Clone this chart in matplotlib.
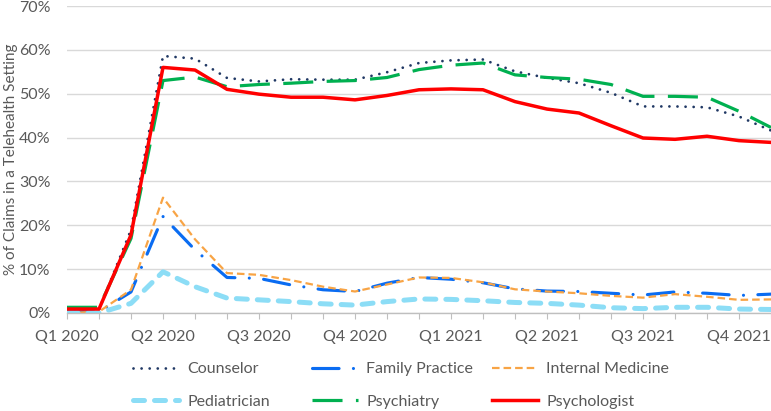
import matplotlib
matplotlib.use("Agg")
import matplotlib.pyplot as plt

# monthly share of claims in a telehealth setting (%), Jan 2020 .. Nov 2021
months = list(range(23))
quarter_labels = ["Q1 2020", "Q2 2020", "Q3 2020", "Q4 2020",
                  "Q1 2021", "Q2 2021", "Q3 2021", "Q4 2021"]

counselor = [0.8, 0.8, 19.0, 58.6, 58.0, 53.6, 52.8, 53.3, 53.2, 53.2, 54.9, 57.0,
             57.6, 57.8, 55.1, 53.6, 52.4, 50.2, 47.1, 47.1, 46.9, 44.8, 41.6]
family_practice = [0.3, 0.3, 4.8, 22.0, 14.4, 8.1, 7.9, 6.4, 5.3, 4.9, 6.8, 8.1,
                   7.7, 6.9, 5.5, 5.0, 4.9, 4.5, 4.1, 4.8, 4.5, 4.0, 4.3]
internal_medicine = [0.0, 0.3, 5.3, 26.3, 16.8, 9.1, 8.7, 7.5, 6.0, 4.9, 6.5, 8.1,
                     8.0, 7.0, 5.4, 4.9, 4.5, 3.9, 3.5, 4.3, 3.7, 3.0, 3.1]
pediatrician = [0.0, 0.0, 2.2, 9.4, 6.0, 3.4, 3.0, 2.6, 2.1, 1.8, 2.6, 3.2,
                3.1, 2.8, 2.4, 2.2, 1.8, 1.2, 1.0, 1.3, 1.3, 0.9, 0.8]
psychiatry = [1.3, 1.3, 17.0, 53.0, 53.8, 51.6, 52.1, 52.4, 52.8, 53.0, 53.7, 55.5,
              56.5, 57.0, 54.3, 53.7, 53.3, 52.1, 49.4, 49.4, 49.2, 46.0, 42.3]
psychologist = [0.9, 0.9, 17.8, 56.0, 55.4, 51.0, 49.9, 49.2, 49.2, 48.6, 49.6, 50.9,
                51.1, 50.9, 48.2, 46.5, 45.6, 42.7, 39.9, 39.6, 40.3, 39.3, 38.9]

plt.rcParams['font.family'] = ['Lato', 'DejaVu Sans']
gray_text = '#595959'
grid_col = '#D9D9D9'

fig = plt.figure(figsize=(7.71, 4.11), dpi=100)
ax = fig.add_axes([67 / 771, 1 - 313 / 411, 704 / 771, 307 / 411])

series = [
    ("Counselor", counselor, dict(color='#203864', lw=2.0, ls=(0, (0.01, 2.9)),
                                  dash_capstyle='round')),
    ("Family Practice", family_practice, dict(color='#0A6CF2', lw=2.25,
                                              ls=(0, (8.5, 4.6, 0.01, 4.6)),
                                              dash_capstyle='round')),
    ("Internal Medicine", internal_medicine, dict(color='#F8A445', lw=1.6,
                                                  ls=(0, (3.4, 1.8)),
                                                  dash_capstyle='butt')),
    ("Pediatrician", pediatrician, dict(color='#8CDDF6', lw=3.6, ls=(0, (2.2, 2.0)),
                                        dash_capstyle='round')),
    ("Psychiatry", psychiatry, dict(color='#00B050', lw=2.3, ls=(0, (9.4, 4.2)),
                                    dash_capstyle='butt')),
    ("Psychologist", psychologist, dict(color='#FF0000', lw=2.5, ls='-')),
]

handles = []
for name, vals, style in series:
    line, = ax.plot(months, vals, label=name, solid_joinstyle='round', **style)
    handles.append(line)

ax.set_xlim(0, 22)
ax.set_ylim(0, 70)
ax.set_yticks(range(0, 71, 10))
ax.set_yticklabels([f"{v}%" for v in range(0, 71, 10)])
ax.yaxis.grid(True, color=grid_col, lw=1.0)
ax.set_axisbelow(True)

ax.set_xticks(months)
ax.set_xticklabels([quarter_labels[i // 3] if i % 3 == 0 else "" for i in months])

for s in ['top', 'right', 'left']:
    ax.spines[s].set_visible(False)
ax.spines['bottom'].set_color('#BFBFBF')
ax.spines['bottom'].set_linewidth(1.0)

ax.tick_params(axis='x', direction='out', length=4, width=0.8, color='#BFBFBF',
               labelsize=11.5, labelcolor=gray_text, pad=8)
ax.tick_params(axis='y', length=0, labelsize=11.5, labelcolor=gray_text, pad=12)

ax.set_ylabel("% of Claims in a Telehealth Setting", fontsize=11, color=gray_text)
ax.yaxis.set_label_coords(-0.070, 0.5)

# legend: three columns of two rows, Excel style fixed column positions
col_x = [133 / 771, 312 / 771, 492 / 771]
for c in range(3):
    hs = [handles[c], handles[c + 3]]
    leg = fig.legend(hs, [h.get_label() for h in hs], loc='upper left',
                     bbox_to_anchor=(col_x[c], 1 - 362 / 411), frameon=False,
                     fontsize=11.5, handlelength=2.9, handletextpad=0.5,
                     labelspacing=1.15, borderpad=0, borderaxespad=0)
    for t in leg.get_texts():
        t.set_color(gray_text)

fig.savefig("out.png", dpi=100)
